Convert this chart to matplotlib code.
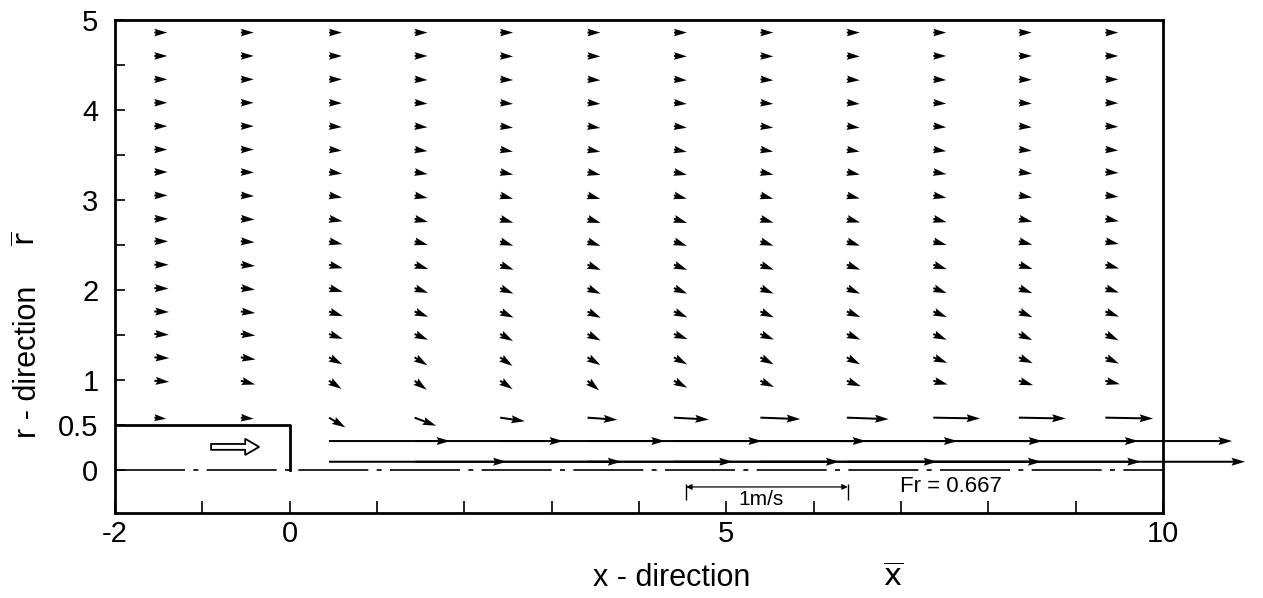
import numpy as np
import matplotlib.pyplot as plt
from matplotlib.patches import FancyArrow

plt.rcParams['font.family'] = ['Liberation Sans Narrow', 'Liberation Sans', 'DejaVu Sans']
plt.rcParams['axes.unicode_minus'] = False

# tail positions of the velocity vectors
x_cols = [-1.55, -0.56, 0.45, 1.43, 2.41, 3.41, 4.40, 5.39, 6.38, 7.37, 8.35, 9.34]
r_rows = [4.86, 4.60, 4.34, 4.08, 3.82, 3.56, 3.31, 3.05, 2.79, 2.54, 2.28, 2.02, 1.76, 1.51, 1.25, 0.99]

# speed (m/s) of the outer field, one value per row
speed_rows = [0.080, 0.080, 0.080, 0.080, 0.080, 0.080, 0.082, 0.082,
              0.085, 0.085, 0.088, 0.088, 0.090, 0.090, 0.092, 0.092]

# flow angle (deg), rows top -> bottom, columns left -> right
angle_tab = [
    [0, 0, 0, 0, 0, 0, 0, 0, 0, 0, 0, 0],
    [0, 0, 0, 0, -2, -2, -2, -2, -2, 0, 0, 0],
    [0, 0, 0, -3, -3, -4, -4, -4, -4, -3, -2, 0],
    [0, 0, -2, -4, -5, -5, -5, -5, -5, -4, -4, -2],
    [0, 0, -4, -5, -7, -8, -7, -7, -7, -5, -5, -3],
    [0, 0, -5, -7, -9, -10, -10, -9, -9, -7, -5, -4],
    [0, -2, -7, -9, -11, -12, -12, -11, -11, -9, -7, -4],
    [0, -3, -9, -11, -14, -15, -14, -14, -13, -10, -9, -6],
    [0, -3, -10, -13, -16, -17, -17, -16, -15, -14, -12, -10],
    [0, -4, -12, -15, -18, -19, -19, -18, -18, -15, -14, -11],
    [0, -5, -14, -17, -20, -21, -21, -20, -20, -18, -17, -15],
    [-2, -6, -15, -19, -22, -23, -22, -22, -22, -20, -20, -18],
    [-2, -6, -18, -21, -24, -25, -23, -23, -22, -22, -22, -20],
    [-3, -6, -19, -23, -28, -26, -20, -22, -22, -23, -24, -25],
    [-3, -8, -27, -31, -34, -30, -27, -27, -27, -21, -22, -24],
    [-4, -14, -32, -36, -33, -39, -27, -24, -21, -14, -17, -13],
]

# row just above the nozzle lip
r_lip = 0.58
lip_speed = [0.074, 0.080, 0.117, 0.142, 0.154, 0.185, 0.216, 0.247, 0.259, 0.290, 0.290, 0.296]
lip_angle = [-5, -5, -30, -20, -8, -4, -3, -2, -2, -1, -1, -1]

# jet core rows, columns downstream of the exit (x > 0); nan = not drawn
r_core = [0.32, 0.09]
core_speed = [
    [0.75, 0.92, 1.02, 1.08, 1.19, 1.22, 1.21, 1.27, 1.32, np.nan],
    [1.10, 1.28, 1.44, 1.56, 1.63, 1.74, 1.82, 1.93, np.nan, np.nan],
]

vel_scale = 1.85   # x-units for 1 m/s
nozzle_r = 0.5
froude = 0.667

fig = plt.figure(figsize=(12.63, 5.98), dpi=100)
ax = fig.add_axes([0.0911, 0.1421, 0.8297, 0.8245])
ax.set_xlim(-2, 10)
ax.set_ylim(-0.48, 5)

# outer field
X, R = np.meshgrid(x_cols, r_rows)
spd = np.array(speed_rows)[:, None] * np.ones_like(X)
ang = np.radians(np.array(angle_tab, dtype=float))
U = spd * np.cos(ang)
V = spd * np.sin(ang)

xs = np.concatenate([X.ravel(), x_cols])
ys = np.concatenate([R.ravel(), np.full(len(x_cols), r_lip)])
us = np.concatenate([U.ravel(), np.array(lip_speed) * np.cos(np.radians(lip_angle))])
vs = np.concatenate([V.ravel(), np.array(lip_speed) * np.sin(np.radians(lip_angle))])

qkw = dict(angles='xy', scale_units='xy', scale=1 / vel_scale, units='dots',
           width=2.0, headwidth=4.0, headlength=6.8, headaxislength=6.0, color='k', pivot='tail')
ax.quiver(xs, ys, us, vs, **qkw)

# jet core (arrows run past the frame)
xc = [x for x in x_cols if x > 0]
for r, sp in zip(r_core, core_speed):
    sp = np.array(sp)
    ok = ~np.isnan(sp)
    q = ax.quiver(np.array(xc)[ok], np.full(ok.sum(), r), sp[ok], np.zeros(ok.sum()), **qkw)
    q.set_clip_on(False)

# nozzle
ax.plot([-2, 0, 0], [nozzle_r, nozzle_r, 0], color='k', lw=2)
ax.add_patch(FancyArrow(-0.90, 0.255, 0.55, 0, width=0.065, head_width=0.18, head_length=0.16,
                        length_includes_head=True, fc='white', ec='k', lw=1.3))

# axis of symmetry
ax.axhline(0, color='k', lw=1.2, ls=(0, (42, 5, 3, 5)))

# velocity scale bar
bx0, by = 4.54, -0.19
bx1 = bx0 + 1.0 * vel_scale
ax.annotate('', xy=(bx0, by), xytext=(bx1, by),
            arrowprops=dict(arrowstyle='<|-|>', lw=0.9, color='k', mutation_scale=8,
                            shrinkA=0, shrinkB=0))
ax.vlines([bx0, bx1], by - 0.15, by + 0.03, color='k', lw=1)
ax.text((bx0 + bx1) / 2 - 0.07, by - 0.03, '1m/s', ha='center', va='top', fontsize=15)
ax.text(6.99, by, f'Fr = {froude}', ha='left', va='center', fontsize=16)

# ticks
ax.set_xticks([-2, 0, 5, 10])
ax.set_xticks(np.arange(-2, 11, 1), minor=True)
ax.set_yticks([0, 0.5, 1, 2, 3, 4, 5])
ax.set_yticks([1.5, 2.5, 3.5, 4.5], minor=True)
ax.set_yticklabels(['0', '0.5', '1', '2', '3', '4', '5'])
ax.tick_params(which='both', direction='in', top=False, right=False, labelsize=21, width=1.2)
ax.tick_params(axis='x', which='both', length=9, pad=5)
ax.tick_params(axis='y', which='both', length=7, pad=12)
for s in ax.spines.values():
    s.set_linewidth(2)

fig.text(0.532, 0.033, 'x - direction', ha='center', va='center', fontsize=22)
fig.text(0.707, 0.033, r'$\overline{\mathrm{x}}$', ha='center', va='center', fontsize=22)
fig.text(0.022, 0.395, 'r - direction', ha='center', va='center', rotation=90, fontsize=22)
fig.text(0.022, 0.6, r'$\overline{\mathrm{r}}$', ha='center', va='center', rotation=90, fontsize=22)

fig.savefig('out.png', dpi=100)
